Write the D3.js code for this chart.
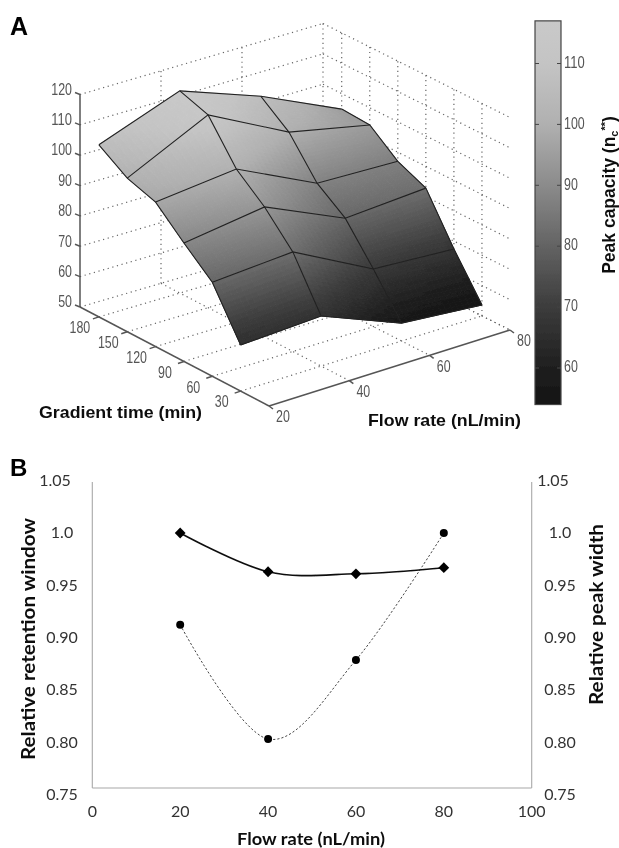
<!DOCTYPE html>
<html><head><meta charset="utf-8">
<script src="https://cdn.jsdelivr.net/npm/d3@7"></script>
<style>html,body{margin:0;background:#fff}svg{display:block}</style></head>
<body><svg id="c" width="619" height="848"></svg>
<script>
// Panel A data
const flowRates = [20, 40, 60, 80];
const gradientTimes = [180, 150, 120, 90, 60, 30];
const peakCapacity20 = [106.7, 100.6, 97.6, 89, 81, 65.2];
const peakCapacity40 = [116.6, 113.5, 100.5, 92.8, 82.8, 66.5];
const peakCapacity60 = [107, 99.9, 87.8, 81, 69, 55.9];
const peakCapacity80 = [94.9, 94.3, 87, 82.8, 67.4, 53.6];
const peakCapacity = [peakCapacity20, peakCapacity40, peakCapacity60, peakCapacity80];
const zTicks = [50, 60, 70, 80, 90, 100, 110, 120];
const colorbarTicks = [60, 70, 80, 90, 100, 110];
// Panel B data
const flowB = [20, 40, 60, 80];
const retentionWindow = [1.0, 0.962, 0.960, 0.966];
const peakWidth = [0.910, 0.798, 0.8755, 1.0];
const xTicksB = [0, 20, 40, 60, 80, 100];
const yTicksB = [1.05, 1.0, 0.95, 0.90, 0.85, 0.80, 0.75];
const yLabelsB = ["1.05", "1.0", "0.95", "0.90", "0.85", "0.80", "0.75"];

const svg = d3.select("#c");
const ARIAL = "'Liberation Sans',Arial,sans-serif", CAL = "Lato,sans-serif";
const defs = svg.append("defs");
defs.append("filter").attr("id", "soft").attr("x", "-5%").attr("y", "-5%").attr("width", "110%").attr("height", "110%")
  .append("feGaussianBlur").attr("stdDeviation", 0.45);

// ---------- Panel A: 3D projection ----------
const uS = d3.scaleLinear().domain([20, 80]).range([0, 1]);
const vS = d3.scaleLinear().domain([0, 200]).range([0, 1]);
const zS = d3.scaleLinear().domain([50, 120]).range([0, 212.5]);
const project = (f, t, z) => {
  const u = uS(f), v = vS(t);
  return [269 + 241 * u - 189 * v + 2 * u * v, 406 - 76 * u - 99 * v + 5 * u * v - zS(z)];
};
const color = d3.scaleLinear().domain([54, 60, 70, 80, 90, 100, 110, 117])
  .range(["#141414", "#1f1f1f", "#3c3c3c", "#636363", "#8b8b8b", "#b0b0b0", "#c4c4c4", "#c9c9c9"]).clamp(true);

const dotted = { stroke: "#666", "stroke-width": 1.2, "stroke-dasharray": "1.2 3.6", fill: "none" };
const root = svg.append("g").attr("filter", "url(#soft)");
const A = root.append("g");
const seg = (a, b, st) => {
  const l = A.append("line").attr("x1", a[0]).attr("y1", a[1]).attr("x2", b[0]).attr("y2", b[1]);
  Object.entries(st).forEach(([k, v]) => l.attr(k, v));
};
// walls
zTicks.forEach(z => {
  seg(project(20, 200, z), project(80, 200, z), dotted);
  seg(project(80, 200, z), project(80, 0, z), dotted);
});
flowRates.slice(1).forEach(f => {
  seg(project(f, 200, 50), project(f, 200, 120), dotted);
  seg(project(f, 200, 50), project(f, 0, 50), dotted);
});
gradientTimes.forEach(t => {
  seg(project(80, t, 50), project(80, t, 120), dotted);
  seg(project(20, t, 50), project(80, t, 50), dotted);
});
// axes
const axisSt = { stroke: "#555", "stroke-width": 1.5 };
seg(project(20, 200, 50), project(20, 200, 120), axisSt);
seg(project(20, 200, 50), project(20, 0, 50), axisSt);
seg(project(20, 0, 50), project(80, 0, 50), axisSt);
const tickAttrs = (sel, s) => sel.attr("dominant-baseline", "middle").attr("font-family", ARIAL).attr("font-size", 16)
  .attr("fill", "#555").attr("textLength", String(s).length * 6.9).attr("lengthAdjust", "spacingAndGlyphs").text(s);
const tickTxt = (x, y, s, anchor) => tickAttrs(A.append("text").attr("x", x).attr("y", y).attr("text-anchor", anchor), s);
zTicks.forEach(z => {
  const p = project(20, 200, z);
  seg([p[0] - 5, p[1] - 2], p, axisSt);
  tickTxt(p[0] - 8, p[1] - 4, z, "end");
});
gradientTimes.forEach(t => {
  const p = project(20, t, 50);
  seg([p[0] - 6, p[1] + 2], p, axisSt);
  tickTxt(p[0] - 19, p[1] + 12, t, "middle");
});
flowRates.forEach(f => {
  const p = project(f, 0, 50);
  seg([p[0] + 4, p[1] + 3], p, axisSt);
  tickTxt(p[0] + 14, p[1] + 12, f, "middle");
});
// surface, shaded between the read values
const N = 14, shade = A.append("g"), mesh = A.append("g");
const mix = (a, b, s) => a + (b - a) * s;
for (let i = 0; i < flowRates.length - 1; i++) for (let j = 0; j < gradientTimes.length - 1; j++) {
  const fS = d3.scaleLinear().domain([0, N]).range([flowRates[i], flowRates[i + 1]]);
  const tS = d3.scaleLinear().domain([0, N]).range([gradientTimes[j], gradientTimes[j + 1]]);
  const zAt = (a, b) => {
    const s = a / N, r = b / N;
    return mix(mix(peakCapacity[i][j], peakCapacity[i + 1][j], s), mix(peakCapacity[i][j + 1], peakCapacity[i + 1][j + 1], s), r);
  };
  for (let a = 0; a < N; a++) for (let b = 0; b < N; b++) {
    const pts = [[a, b], [a + 1, b], [a + 1, b + 1], [a, b + 1]].map(([p, q]) => project(fS(p), tS(q), zAt(p, q)));
    const c = color(zAt(a + .5, b + .5));
    shade.append("polygon").attr("points", pts.join(" ")).attr("fill", c).attr("stroke", c).attr("stroke-width", 1);
  }
}
const meshLine = d3.line();
flowRates.forEach((f, i) => mesh.append("path").attr("fill", "none").attr("stroke", "#222").attr("stroke-width", 1.1)
  .attr("d", meshLine(gradientTimes.map((t, j) => project(f, t, peakCapacity[i][j])))));
gradientTimes.forEach((t, j) => mesh.append("path").attr("fill", "none").attr("stroke", "#222").attr("stroke-width", 1.1)
  .attr("d", meshLine(flowRates.map((f, i) => project(f, t, peakCapacity[i][j])))));

// colorbar
const cbY = d3.scaleLinear().domain([60, 110]).range([368, 63.5]);
const grad = defs.append("linearGradient").attr("id", "cb").attr("x1", 0).attr("x2", 0).attr("y1", 1).attr("y2", 0);
color.domain().forEach(v => grad.append("stop").attr("offset", (v - 54) / 63).attr("stop-color", color(v)));
root.append("rect").attr("x", 535).attr("y", cbY(117)).attr("width", 26).attr("height", cbY(54) - cbY(117))
  .attr("fill", "url(#cb)").attr("stroke", "#444").attr("stroke-width", 1.2);
colorbarTicks.forEach(v => {
  const y = cbY(v);
  root.append("line").attr("x1", 535).attr("x2", 539).attr("y1", y).attr("y2", y).attr("stroke", "#444");
  root.append("line").attr("x1", 557).attr("x2", 561).attr("y1", y).attr("y2", y).attr("stroke", "#444");
  tickAttrs(root.append("text").attr("x", 564).attr("y", y), v);
});
const title = (x, y, s, fam, size, rot, w) => {
  const g = root.append("text").attr("text-anchor", "middle").attr("font-family", fam).attr("font-size", size)
    .attr("font-weight", "bold").attr("fill", "#111").attr("transform", `translate(${x},${y}) rotate(${rot || 0})`);
  if (w) g.attr("textLength", w).attr("lengthAdjust", "spacingAndGlyphs");
  return g.text(s);
};
const pc = title(615, 195, "", ARIAL, 17.5, -90);
pc.append("tspan").text("Peak capacity (n");
pc.append("tspan").attr("font-size", 11).attr("dy", 3).text("c");
pc.append("tspan").attr("font-size", 11).attr("dy", -9).text("**");
pc.append("tspan").attr("dy", 6).text(")");
title(120.5, 418, "Gradient time (min)", ARIAL, 16.5, 0, 163);
title(444.5, 426, "Flow rate (nL/min)", ARIAL, 16.5, 0, 153);
root.append("text").attr("x", 10).attr("y", 35).attr("font-family", ARIAL).attr("font-weight", "bold").attr("font-size", 25).attr("fill", "#000").text("A");

// ---------- Panel B ----------
const x = d3.scaleLinear().domain([0, 100]).range([92.3, 531.7]);
const y = d3.scaleLinear().domain([0.75, 1.05]).range([788, 482]);
const yLabel = d3.scaleLinear().domain([0.75, 1.05]).range([796, 482]);
const B = root.append("g");
const gAxis = "#a8a8a8";
[[x(0), 482, x(0), 788], [x(100), 482, x(100), 788], [x(0), 788, x(100), 788]].forEach(([a, b, c, d]) =>
  B.append("line").attr("x1", a).attr("y1", b).attr("x2", c).attr("y2", d).attr("stroke", gAxis).attr("stroke-width", 1.1));
const lbl = (px, py, s) => B.append("text").attr("x", px).attr("y", py).attr("text-anchor", "middle")
  .attr("dominant-baseline", "middle").attr("font-family", CAL).attr("font-size", 16).attr("fill", "#333").text(s);
xTicksB.forEach(v => lbl(x(v), 813, v));
yTicksB.forEach((v, i) => {
  const shift = yLabelsB[i] === "1.05" ? -7 : 0;
  lbl(62 + shift, yLabel(v), yLabelsB[i]);
  lbl(560 + shift, yLabel(v), yLabelsB[i]);
});
const curve = d3.line().x((d, i) => x(flowB[i])).y(d => y(d)).curve(d3.curveCatmullRom.alpha(0));
B.append("path").attr("d", curve(peakWidth)).attr("fill", "none").attr("stroke", "#444").attr("stroke-width", 1).attr("stroke-dasharray", "2.2 2");
B.append("path").attr("d", curve(retentionWindow)).attr("fill", "none").attr("stroke", "#111").attr("stroke-width", 1.6);
B.selectAll(".c").data(peakWidth).join("circle").attr("cx", (d, i) => x(flowB[i])).attr("cy", d => y(d)).attr("r", 4).attr("fill", "#000");
B.selectAll(".d").data(retentionWindow).join("path").attr("d", d3.symbol(d3.symbolSquare, 58))
  .attr("transform", (d, i) => `translate(${x(flowB[i])},${y(d)}) rotate(45)`).attr("fill", "#000");
title(311, 845, "Flow rate (nL/min)", CAL, 17, 0, 148);
title(34.5, 639, "Relative retention window", CAL, 18.5, -90, 242);
title(602.5, 614.5, "Relative peak width", CAL, 18.5, -90, 181);
root.append("text").attr("x", 10).attr("y", 476).attr("font-family", ARIAL).attr("font-weight", "bold").attr("font-size", 24).attr("fill", "#000").text("B");
</script></body></html>
